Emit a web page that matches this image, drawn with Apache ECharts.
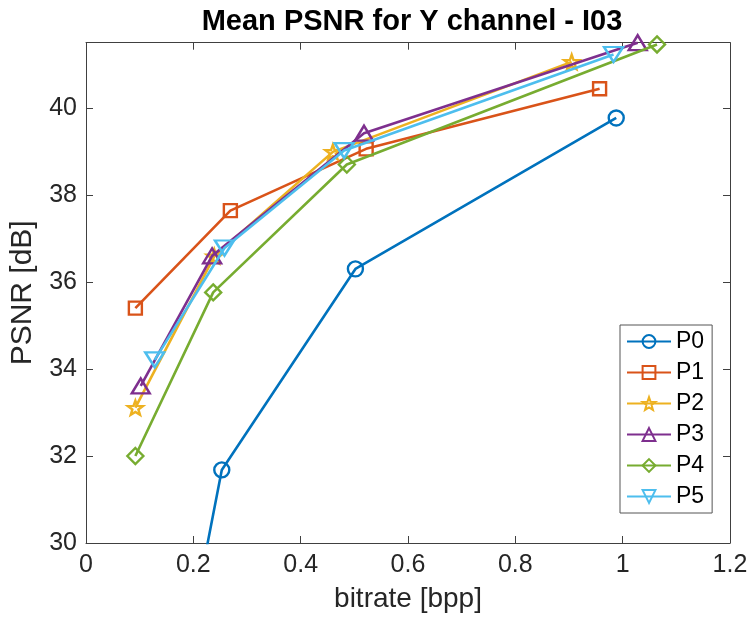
<!DOCTYPE html>
<html><head><meta charset="utf-8">
<script src="https://cdn.jsdelivr.net/npm/echarts@6/dist/echarts.min.js"></script>
<style>html,body{margin:0;padding:0;background:#fff}#c{width:752px;height:620px}</style>
</head><body><div id="c"></div>
<script>
const seriesNames = ['P0','P1','P2','P3','P4','P5'];
const x0 = [0.200, 0.253, 0.502, 0.988]; const y0 = [28.30, 31.68, 36.30, 39.77];
const x1 = [0.092, 0.269, 0.522, 0.957]; const y1 = [35.40, 37.64, 39.06, 40.44];
const x2 = [0.092, 0.239, 0.460, 0.905]; const y2 = [33.11, 36.59, 38.99, 41.06];
const x3 = [0.102, 0.235, 0.518, 1.028]; const y3 = [33.61, 36.60, 39.42, 41.50];
const x4 = [0.092, 0.237, 0.486, 1.064]; const y4 = [32.00, 35.76, 38.70, 41.46];
const x5 = [0.128, 0.258, 0.481, 0.983]; const y5 = [34.21, 36.78, 39.02, 41.23];
const xs = [x0,x1,x2,x3,x4,x5], ys = [y0,y1,y2,y3,y4,y5];

const colors = ['#0072BD','#D95319','#EDB120','#7E2F8E','#77AC30','#4DBEEE'];
const star = 'path://M0,-10L2.35,-3.24L9.51,-3.09L3.8,1.24L5.88,8.09L0,4.5L-5.88,8.09L-3.8,1.24L-9.51,-3.09L-2.35,-3.24Z';
const symbols = ['circle','rect',star,'triangle','diamond','triangle'];
const sizes = [[15,15],[13,13],[15,15],[18,15],[16,16],[19,15]];
const rotates = [0,0,0,0,0,180];
const axisColor = '#404040', textColor = '#262626';
const font = 'Liberation Sans, Arial, Helvetica, sans-serif';

const series = seriesNames.map((n,i)=>({
  name:n, type:'line', xAxisIndex:0, yAxisIndex:0,
  data: xs[i].map((x,j)=>[x, ys[i][j]]),
  symbol: symbols[i], symbolSize: sizes[i], symbolRotate: rotates[i], symbolKeepAspect:true,
  showAllSymbol:true, clip: i===0,
  lineStyle:{color:colors[i], width:2.6},
  itemStyle:{color:'rgba(255,255,255,0)', borderColor:colors[i], borderWidth:2.4},
  emphasis:{disabled:true}, animation:false, z: 2+i
}));

const baseX = {type:'value', min:0, max:1.2, interval:0.2,
  axisLine:{show:true, onZero:false, lineStyle:{color:axisColor, width:1}},
  axisTick:{show:true, inside:true, length:7, lineStyle:{color:axisColor}},
  splitLine:{show:false}};
const baseY = {type:'value', min:30, max:41.5, interval:2,
  axisLine:{show:true, onZero:false, lineStyle:{color:axisColor, width:1}},
  axisTick:{show:true, inside:true, length:7, lineStyle:{color:axisColor}},
  splitLine:{show:false}};

const chart = echarts.init(document.getElementById('c'), null, {renderer:'canvas'});
chart.setOption({
  animation:false,
  backgroundColor:'#fff',
  title:{text:'Mean PSNR for Y channel - I03', left:407, top:2, textAlign:'center',
    textStyle:{fontFamily:font, fontWeight:'bold', fontSize:29, color:'#000'}},
  grid:{left:84.5, right:22, top:42.7, bottom:77, containLabel:false},
  xAxis:[
    Object.assign({}, baseX, {position:'bottom', name:'bitrate [bpp]', nameLocation:'middle', nameGap:42,
      nameTextStyle:{fontFamily:font, fontSize:28, color:textColor},
      axisLabel:{fontFamily:font, fontSize:25, color:textColor, margin:10,
        formatter:v=>String(Math.round(v*10)/10)}}),
    Object.assign({}, baseX, {position:'top', axisLabel:{show:false}})
  ],
  yAxis:[
    Object.assign({}, baseY, {position:'left', name:'PSNR [dB]', nameLocation:'middle', nameGap:48,
      nameTextStyle:{fontFamily:font, fontSize:30, color:textColor},
      axisLabel:{fontFamily:font, fontSize:25, color:textColor, margin:9, showMaxLabel:false}}),
    Object.assign({}, baseY, {position:'right', axisLabel:{show:false}})
  ],
  legend:{orient:'vertical', left:620, top:325, data:seriesNames,
    itemWidth:44, itemHeight:16, itemGap:8, padding:[5,8,5,6],
    backgroundColor:'#fff', borderColor:'#555', borderWidth:1,
    textStyle:{fontFamily:font, fontSize:23, color:'#000'}},
  series: series
});
</script></body></html>
